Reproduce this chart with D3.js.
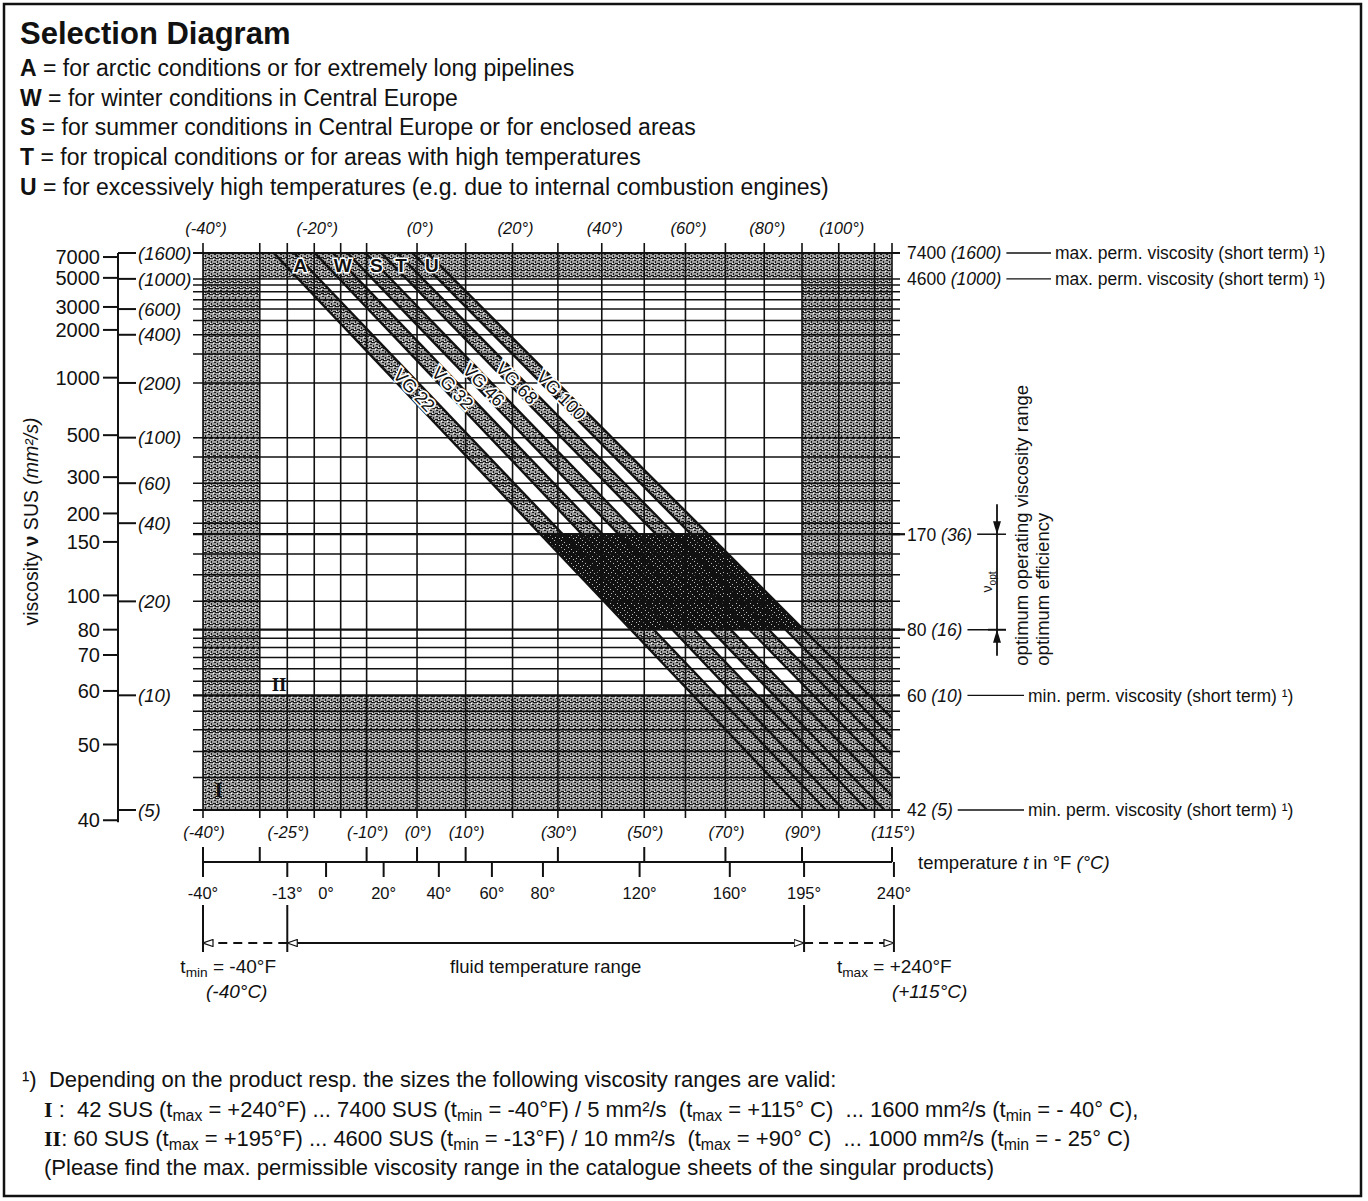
<!DOCTYPE html>
<html>
<head>
<meta charset="utf-8">
<script src="https://cdn.jsdelivr.net/npm/d3@7"></script>
<style>
  body { margin: 0; background: #fff; }
  svg text { font-family: "Liberation Sans", Arial, sans-serif; fill: #111; white-space: pre; }
</style>
</head>
<body>
<svg id="chart" width="1368" height="1201"></svg>
<script>
// ── Data ──
const legendKeys  = ['A', 'W', 'S', 'T', 'U'];
const legendTexts = [
  'for arctic conditions or for extremely long pipelines',
  'for winter conditions in Central Europe',
  'for summer conditions in Central Europe or for enclosed areas',
  'for tropical conditions or for areas with high temperatures',
  'for excessively high temperatures (e.g. due to internal combustion engines)'
];

// temperature grid (°C) and labels
const gridC        = [-40, -30, -25, -20, -15, -10, 0, 10, 20, 30, 40, 50, 60, 70, 80, 90, 100, 110, 115];
const topLabelsC   = [-40, -20, 0, 20, 40, 60, 80, 100];
const lowLabelsC   = [-40, -25, -10, 0, 10, 30, 50, 70, 90, 115];
const lowTicksC    = [-40, -30, -10, 0, 10, 30, 50, 70, 90, 115];
const ticksF       = [-40, -13, 0, 20, 40, 60, 80, 120, 160, 195, 240];
const rangeF       = [-40, -13, 195, 240];

// viscosity grid (mm²/s)
const gridNu   = [1600, 1000, 900, 800, 700, 600, 500, 400, 300, 200, 100, 80, 60, 50, 40, 36,
                  30, 25, 20, 16, 15, 14, 13, 12, 11, 10, 9, 8, 7, 6, 5];
const nuLabels = [1600, 1000, 600, 400, 200, 100, 60, 40, 20, 10, 5];
const susLabels = [7000, 5000, 3000, 2000, 1000, 500, 300, 200, 150, 100, 80, 70, 60, 50, 40];
const susAtNu   = [1484, 1018, 621, 431, 215, 103, 64, 44, 33.5, 21, 16, 13.25, 10.3, 7.3, 4.73];

// shaded limit zones: [t from, t to] x [nu from, nu to]
const shadeT  = [[-40, -30], [90, 115], [-40, 115], [-40, 115]];
const shadeNu = [[5, 1600], [5, 1600], [1000, 1600], [5, 10]];

// ISO VG bands: viscosity at 40 °C and 100 °C of lower / upper edge
const grades      = ['VG 22', 'VG 32', 'VG 46', 'VG 68', 'VG 100'];
const nu40Lo      = [20.4, 29.7, 42.6, 63, 92.7];
const nu40Hi      = [24.9, 36.3, 52.1, 77, 113];
const nu100Lo     = [4.07, 5.15, 6.55, 8.45, 10.85];
const nu100Hi     = [4.65, 5.9, 7.45, 9.65, 12.35];
const gradeLblNu  = [182, 187, 195, 200, 170];
const letterT     = [-22.6, -14.6, -8.1, -3.2, 3.0];
const letterNu    = 1280;
const optNu       = [16, 36];

// right hand annotations
const rightSus  = ['7400', '4600', '170', '80', '60', '42'];
const rightNu   = [1600, 1000, 36, 16, 10, 5];
const rightNote = ['max. perm. viscosity (short term) ¹)', 'max. perm. viscosity (short term) ¹)', '', '',
                   'min. perm. viscosity (short term) ¹)', 'min. perm. viscosity (short term) ¹)'];

const svg  = d3.select('#chart');
const defs = svg.append('defs');

// ── Scales: log absolute temperature / Walther log-log viscosity ──
const walther = v => Math.log10(Math.log10(v + 1));
const xK = d3.scaleLog().domain([233.15, 388.15]).range([203, 892]);
const X  = t => xK(t + 273.15);
const XF = f => X((f - 32) * 5 / 9);
const yW = d3.scaleLinear().domain([walther(5), walther(1600)]).range([810, 253]);
const Y  = v => yW(walther(v));
const x0 = X(-40), x1 = X(115), yTop = Y(1600), yBot = Y(5);

// ── Patterns ──
const stip = defs.append('pattern').attr('id', 'stip')
  .attr('width', 6).attr('height', 6).attr('patternUnits', 'userSpaceOnUse');
stip.append('rect').attr('width', 6).attr('height', 6).attr('fill', '#9e9e9e');
[[0, 0, 3, 1], [4, 2, 2, 1], [1, 3, 1, 2], [3, 5, 3, 1], [5, 0, 1, 1]].forEach(([a, b, w, h]) =>
  stip.append('rect').attr('x', a).attr('y', b).attr('width', w).attr('height', h).attr('fill', '#1a1a1a'));
[[3, 1], [0, 5]].forEach(([a, b]) =>
  stip.append('rect').attr('x', a).attr('y', b).attr('width', 1).attr('height', 1).attr('fill', '#fff'));

const dark = defs.append('pattern').attr('id', 'dark')
  .attr('width', 7).attr('height', 7).attr('patternUnits', 'userSpaceOnUse');
dark.append('rect').attr('width', 7).attr('height', 7).attr('fill', '#111');
[[1, 1], [4, 3], [2, 5], [6, 6]].forEach(([a, b]) =>
  dark.append('rect').attr('x', a).attr('y', b).attr('width', 1).attr('height', 1).attr('fill', '#bbb'));

defs.append('clipPath').attr('id', 'plotClip').append('rect')
  .attr('x', x0).attr('y', yTop).attr('width', x1 - x0).attr('height', yBot - yTop);

const mk = defs.append('marker').attr('id', 'arr').attr('viewBox', '0 0 10 8')
  .attr('refX', 10).attr('refY', 4).attr('markerWidth', 11).attr('markerHeight', 8)
  .attr('markerUnits', 'userSpaceOnUse').attr('orient', 'auto-start-reverse');
mk.append('path').attr('d', 'M0,0.5 L10,4 L0,7.5 Z').attr('fill', '#fff').attr('stroke', '#111').attr('stroke-width', 1.2);

// ── Frame ──
svg.append('rect').attr('x', 4).attr('y', 4).attr('width', 1357).attr('height', 1192)
  .attr('fill', 'none').attr('stroke', '#111').attr('stroke-width', 2.5);

// ── Title & legend ──
svg.append('text').attr('x', 20).attr('y', 44)
  .attr('font-size', 31).attr('font-weight', 'bold').text('Selection Diagram');

legendKeys.forEach((k, i) => {
  const t = svg.append('text').attr('x', 20).attr('y', 68 + i * 29.6).attr('dy', '0.36em').attr('font-size', 23);
  t.append('tspan').attr('font-weight', 'bold').text(k);
  t.append('tspan').text(' = ' + legendTexts[i]);
});

// ── Shaded zones ──
const plot = svg.append('g');
plot.selectAll('rect.shade').data(shadeT).enter().append('rect')
  .attr('class', 'shade')
  .attr('x', d => X(d[0])).attr('width', d => X(d[1]) - X(d[0]))
  .attr('y', (d, i) => Y(shadeNu[i][1])).attr('height', (d, i) => Y(shadeNu[i][0]) - Y(shadeNu[i][1]))
  .attr('fill', 'url(#stip)');

// ── Bands ──
function bandLine(n40, n100) {
  const ax = X(40), ay = Y(n40), bx = X(100), by = Y(n100);
  const k = (bx - ax) / (by - ay);
  return y => ax + (y - ay) * k;
}
const loLines = grades.map((g, i) => bandLine(nu40Lo[i], nu100Lo[i]));
const hiLines = grades.map((g, i) => bandLine(nu40Hi[i], nu100Hi[i]));
const ya = yTop - 10, yb = yBot + 200;

const bands = svg.append('g').attr('clip-path', 'url(#plotClip)');
grades.forEach((g, i) => {
  const lo = loLines[i], hi = hiLines[i];
  bands.append('path')
    .attr('d', `M${lo(ya)},${ya} L${lo(yb)},${yb} L${hi(yb)},${yb} L${hi(ya)},${ya} Z`)
    .attr('fill', 'url(#stip)');
});

// optimum viscosity zone
const oa = Y(optNu[1]), ob = Y(optNu[0]);
const L = loLines[0], R = hiLines[hiLines.length - 1];
bands.append('path')
  .attr('d', `M${L(oa)},${oa} L${R(oa)},${oa} L${R(ob)},${ob} L${L(ob)},${ob} Z`)
  .attr('fill', 'url(#dark)');

// ── Grid ──
const grid = svg.append('g').attr('stroke', '#111');
grid.selectAll('line.v').data(gridC).enter().append('line')
  .attr('x1', d => X(d)).attr('x2', d => X(d))
  .attr('y1', yTop - 10).attr('y2', yBot + 8)
  .attr('stroke-width', 1.6);
grid.selectAll('line.h').data(gridNu).enter().append('line')
  .attr('x1', x0 - 10).attr('x2', x1 + 8)
  .attr('y1', d => Y(d)).attr('y2', d => Y(d))
  .attr('stroke-width', d => [1600, 36, 16, 10, 5].includes(d) ? 2.2 : 1.5);

// band edges
grades.forEach((g, i) => {
  [loLines[i], hiLines[i]].forEach(f => {
    bands.append('line')
      .attr('x1', f(ya)).attr('y1', ya).attr('x2', f(yb)).attr('y2', yb)
      .attr('stroke', '#111').attr('stroke-width', 2.4);
  });
});

// class letters & grade labels
legendKeys.forEach((k, i) => {
  svg.append('text').attr('x', X(letterT[i])).attr('y', Y(letterNu)).attr('dy', '0.36em')
    .attr('text-anchor', 'middle').attr('font-size', 19).attr('font-weight', 'bold')
    .attr('stroke', '#fff').attr('stroke-width', 3).attr('paint-order', 'stroke')
    .text(k);
});
grades.forEach((g, i) => {
  const yy = Y(gradeLblNu[i]);
  const xx = (loLines[i](yy) + hiLines[i](yy)) / 2;
  const k = (loLines[i](yy + 100) - loLines[i](yy)) / 100;
  const ang = Math.atan2(1, k) * 180 / Math.PI;
  svg.append('text').attr('transform', `translate(${xx},${yy}) rotate(${ang})`)
    .attr('dy', '0.36em').attr('text-anchor', 'middle').attr('font-size', 18)
    .attr('stroke', '#fff').attr('stroke-width', 3.5).attr('paint-order', 'stroke')
    .text(g);
});

// zone markers I / II
svg.append('text').attr('x', X(-37.3)).attr('y', Y(5.6)).attr('dy', '0.36em')
  .attr('font-weight', 'bold').attr('font-size', 21)
  .attr('text-anchor', 'middle').style('font-family', '"Liberation Serif", serif').text('I');
svg.append('text').attr('x', X(-26.5)).attr('y', Y(10.8)).attr('dy', '0.36em')
  .attr('font-weight', 'bold').attr('font-size', 19)
  .attr('text-anchor', 'middle').style('font-family', '"Liberation Serif", serif').text('II');

// ── Left axis: SUS and mm²/s ──
const axL = svg.append('g').attr('stroke', '#111');
axL.append('line').attr('x1', 118).attr('x2', 118)
  .attr('y1', Y(1600)).attr('y2', Y(susAtNu[susAtNu.length - 1]) + 2).attr('stroke-width', 2);
axL.selectAll('line.sus').data(susAtNu).enter().append('line')
  .attr('x1', 103).attr('x2', 118).attr('y1', d => Y(d)).attr('y2', d => Y(d)).attr('stroke-width', 2);
axL.selectAll('line.nu').data(nuLabels).enter().append('line')
  .attr('x1', 118).attr('x2', 136).attr('y1', d => Y(d)).attr('y2', d => Y(d)).attr('stroke-width', 2);

svg.selectAll('text.sus').data(susLabels).enter().append('text')
  .attr('x', 100).attr('y', (d, i) => Y(susAtNu[i])).attr('dy', '0.36em')
  .attr('text-anchor', 'end').attr('font-size', 20).text(d => d);
svg.selectAll('text.nu').data(nuLabels).enter().append('text')
  .attr('x', 138).attr('y', d => Y(d)).attr('dy', '0.36em')
  .attr('font-size', 18.5).attr('font-style', 'italic').text(d => `(${d})`);

const yt = svg.append('text').attr('transform', `translate(38,${(Y(1600) + Y(5)) / 2 - 10}) rotate(-90)`)
  .attr('text-anchor', 'middle').attr('font-size', 19.5);
yt.append('tspan').text('viscosity ');
yt.append('tspan').attr('font-weight', 'bold').text('ν');
yt.append('tspan').text(' SUS ');
yt.append('tspan').attr('font-style', 'italic').text('(mm²/s)');

// ── Temperature labels °C ──
svg.selectAll('text.ctop').data(topLabelsC).enter().append('text')
  .attr('x', d => X(d) + 3).attr('y', yTop - 25).attr('dy', '0.36em')
  .attr('text-anchor', 'middle').attr('font-size', 16.5).attr('font-style', 'italic')
  .text(d => `(${d}°)`);
svg.selectAll('text.clow').data(lowLabelsC).enter().append('text')
  .attr('x', d => X(d) + 1).attr('y', yBot + 22).attr('dy', '0.36em')
  .attr('text-anchor', 'middle').attr('font-size', 16.5).attr('font-style', 'italic')
  .text(d => `(${d}°)`);

// ── Temperature axis °F ──
const yF = 862;
const axF = svg.append('g').attr('stroke', '#111').attr('stroke-width', 2);
axF.append('line').attr('x1', x0).attr('x2', x1).attr('y1', yF).attr('y2', yF);
axF.selectAll('line.c').data(lowTicksC).enter().append('line')
  .attr('x1', d => X(d)).attr('x2', d => X(d)).attr('y1', yF - 15).attr('y2', yF);
axF.selectAll('line.f').data(ticksF).enter().append('line')
  .attr('x1', d => XF(d)).attr('x2', d => XF(d)).attr('y1', yF).attr('y2', yF + 15);
svg.selectAll('text.f').data(ticksF).enter().append('text')
  .attr('x', d => XF(d)).attr('y', yF + 31).attr('dy', '0.36em')
  .attr('text-anchor', 'middle').attr('font-size', 16.5).text(d => `${d}°`);

const tl = svg.append('text').attr('x', 918).attr('y', yF).attr('dy', '0.36em').attr('font-size', 18.5);
tl.append('tspan').text('temperature ');
tl.append('tspan').attr('font-style', 'italic').text('t');
tl.append('tspan').text(' in °F ');
tl.append('tspan').attr('font-style', 'italic').text('(°C)');

// ── Fluid temperature range ──
const yR = 943;
const rg = svg.append('g').attr('stroke', '#111').attr('stroke-width', 2);
rg.selectAll('line.bar').data(rangeF).enter().append('line')
  .attr('x1', d => XF(d)).attr('x2', d => XF(d)).attr('y1', 905).attr('y2', 952);
rg.append('line').attr('x1', XF(rangeF[1])).attr('x2', XF(rangeF[0])).attr('y1', yR).attr('y2', yR)
  .attr('stroke-dasharray', '9,6').attr('marker-end', 'url(#arr)');
rg.append('line').attr('x1', XF(rangeF[1])).attr('x2', XF(rangeF[2])).attr('y1', yR).attr('y2', yR)
  .attr('marker-start', 'url(#arr)').attr('marker-end', 'url(#arr)');
rg.append('line').attr('x1', XF(rangeF[2])).attr('x2', XF(rangeF[3])).attr('y1', yR).attr('y2', yR)
  .attr('stroke-dasharray', '9,6').attr('marker-end', 'url(#arr)');

svg.append('text').attr('x', (XF(rangeF[1]) + XF(rangeF[2])) / 2).attr('y', 966).attr('dy', '0.36em')
  .attr('text-anchor', 'middle').attr('font-size', 18.5).text('fluid temperature range');

function rich(sel, parts) {
  let shift = 0;
  parts.forEach(([s, st]) => {
    const ts = sel.append('tspan').text(s);
    if (st === 'sub') { ts.attr('dy', 4 - shift).attr('font-size', '0.72em'); shift = 4; return; }
    if (shift) { ts.attr('dy', -shift); shift = 0; }
    if (st === 'i') ts.attr('font-style', 'italic');
    if (st === 'b') ts.attr('font-weight', 'bold');
    if (st === 'rb') ts.attr('font-weight', 'bold').style('font-family', '"Liberation Serif", serif');
  });
}

rich(svg.append('text').attr('x', XF(-40) + 73).attr('y', 966).attr('dy', '0.36em')
  .attr('text-anchor', 'end').attr('font-size', 19),
  [['t', ''], ['min', 'sub'], [' = -40°F', '']]);
svg.append('text').attr('x', XF(-40) + 3).attr('y', 991).attr('dy', '0.36em')
  .attr('font-size', 19).attr('font-style', 'italic').text('(-40°C)');
rich(svg.append('text').attr('x', XF(240) - 57).attr('y', 966).attr('dy', '0.36em')
  .attr('font-size', 19),
  [['t', ''], ['max', 'sub'], [' = +240°F', '']]);
svg.append('text').attr('x', XF(240) - 2).attr('y', 991).attr('dy', '0.36em')
  .attr('font-size', 19).attr('font-style', 'italic').text('(+115°C)');

// ── Right hand annotations ──
rightNu.forEach((v, i) => {
  const yy = Y(v);
  if (v === 36 || v === 16) {
    svg.append('line').attr('x1', x1).attr('x2', 905).attr('y1', yy).attr('y2', yy)
      .attr('stroke', '#111').attr('stroke-width', 2.2);
  }
  const t = svg.append('text').attr('x', 907).attr('y', yy).attr('dy', '0.36em').attr('font-size', 17.5);
  t.append('tspan').text(rightSus[i] + ' ');
  t.append('tspan').attr('font-style', 'italic').text(`(${v})`);
  const end = 907 + t.node().getComputedTextLength();
  if (rightNote[i]) {
    const nx = i < 2 ? 1055 : 1028;
    svg.append('line').attr('x1', end + 5).attr('x2', nx - 4).attr('y1', yy).attr('y2', yy)
      .attr('stroke', '#111').attr('stroke-width', 1.3);
    svg.append('text').attr('x', nx).attr('y', yy).attr('dy', '0.36em').attr('font-size', 17.5).text(rightNote[i]);
  } else {
    svg.append('line').attr('x1', end + 5).attr('x2', 1006).attr('y1', yy).attr('y2', yy)
      .attr('stroke', '#111').attr('stroke-width', 1.5);
  }
});

// optimum range arrow
const xo = 997;
const og = svg.append('g').attr('stroke', '#111').attr('stroke-width', 1.8);
og.append('line').attr('x1', xo).attr('x2', xo).attr('y1', oa - 30).attr('y2', ob + 26);
og.append('line').attr('x1', xo - 9).attr('x2', xo + 9).attr('y1', ob).attr('y2', ob);
svg.append('path').attr('d', `M${xo - 4},${oa - 13} L${xo + 4},${oa - 13} L${xo},${oa} Z`).attr('fill', '#111');
svg.append('path').attr('d', `M${xo - 4},${ob + 13} L${xo + 4},${ob + 13} L${xo},${ob} Z`).attr('fill', '#111');
rich(svg.append('text').attr('transform', `translate(${xo - 5},${(oa + ob) / 2}) rotate(-90)`)
  .attr('text-anchor', 'middle').attr('font-size', 14),
  [['ν', ''], ['opt', 'sub']]);
svg.append('text').attr('transform', `translate(1028,${ob + 36}) rotate(-90)`)
  .attr('font-size', 18.5).text('optimum operating viscosity range');
svg.append('text').attr('transform', `translate(1049,${ob + 36}) rotate(-90)`)
  .attr('font-size', 18.5).text('optimum efficiency');

// ── Footnote ──
const fn = svg.append('g').attr('font-size', 22);
fn.append('text').attr('x', 22).attr('y', 1079).attr('dy', '0.36em')
  .text('¹)  Depending on the product resp. the sizes the following viscosity ranges are valid:');
rich(fn.append('text').attr('x', 44).attr('y', 1109).attr('dy', '0.36em'), [
  ['I', 'rb'], [' :  42 SUS (t', ''], ['max', 'sub'], [' = +240°F) ... 7400 SUS (t', ''], ['min', 'sub'],
  [' = -40°F) / 5 mm²/s  (t', ''], ['max', 'sub'], [' = +115° C)  ... 1600 mm²/s (t', ''], ['min', 'sub'],
  [' = - 40° C),', '']
]);
rich(fn.append('text').attr('x', 44).attr('y', 1138).attr('dy', '0.36em'), [
  ['II', 'rb'], [': 60 SUS (t', ''], ['max', 'sub'], [' = +195°F) ... 4600 SUS (t', ''], ['min', 'sub'],
  [' = -13°F) / 10 mm²/s  (t', ''], ['max', 'sub'], [' = +90° C)  ... 1000 mm²/s (t', ''], ['min', 'sub'],
  [' = - 25° C)', '']
]);
fn.append('text').attr('x', 44).attr('y', 1167).attr('dy', '0.36em')
  .text('(Please find the max. permissible viscosity range in the catalogue sheets of the singular products)');
</script>
</body>
</html>
